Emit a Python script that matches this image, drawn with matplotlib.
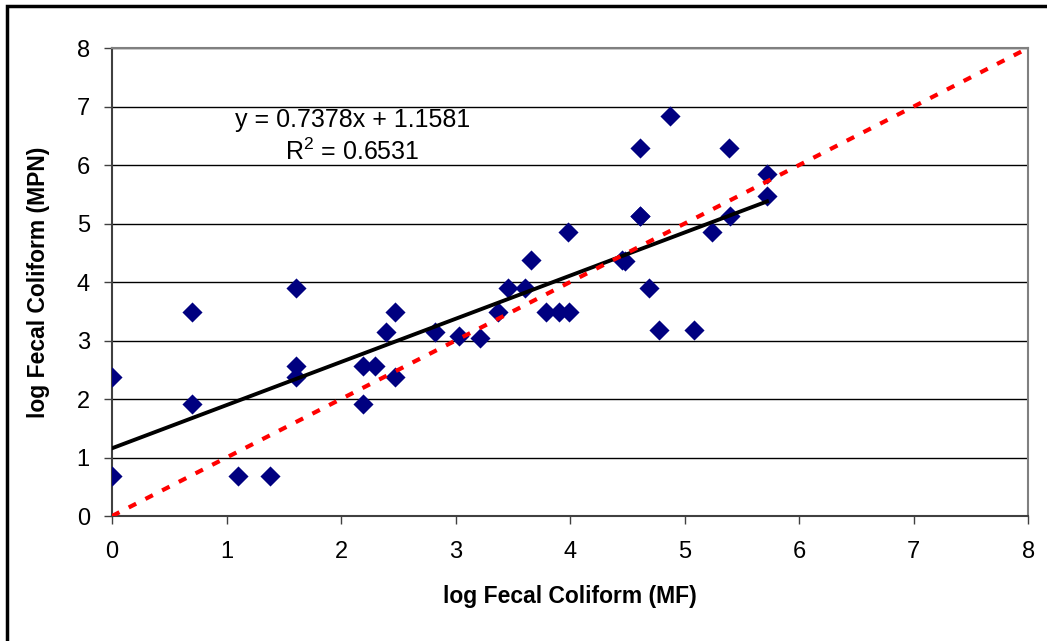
import numpy as np
import matplotlib
matplotlib.use("Agg")
import matplotlib.pyplot as plt
from matplotlib.patches import Rectangle

plt.rcParams['font.family'] = ['Liberation Sans', 'DejaVu Sans']

# log Fecal Coliform, MF (x) vs MPN (y)
mf = [0.00, 0.00, 0.70, 0.70, 1.10, 1.38, 1.61, 1.61, 1.61, 2.19, 2.19, 2.30,
      2.39, 2.47, 2.47, 2.82, 3.03, 3.21, 3.37, 3.46, 3.61, 3.66, 3.79, 3.90,
      3.99, 3.98, 4.45, 4.48, 4.61, 4.61, 4.61, 4.69, 4.78, 4.87, 5.08, 5.24,
      5.39, 5.40, 5.72, 5.72]
mpn = [2.38, 0.68, 3.48, 1.91, 0.68, 0.68, 3.89, 2.56, 2.38, 2.56, 1.91, 2.56,
       3.14, 3.48, 2.38, 3.14, 3.08, 3.04, 3.49, 3.89, 3.89, 4.38, 3.48, 3.48,
       3.48, 4.85, 4.38, 4.36, 6.29, 5.13, 5.13, 3.89, 3.18, 6.84, 3.18, 4.85,
       6.29, 5.13, 5.84, 5.47]

slope = 0.7378
intercept = 1.1581
r2 = 0.6531
one_to_one = [0, 8]

fig = plt.figure(figsize=(10.47, 6.41), dpi=100)
ax = fig.add_axes([0.107, 0.195, 0.875, 0.730])

fs = 17
ax.scatter(mf, mpn, marker='D', s=105, color='#000080', zorder=3, linewidths=0)
fit_x = np.array([0, max(mf)])
ax.plot(fit_x, slope * fit_x + intercept, color='black', lw=2.8, zorder=4)
ax.plot(one_to_one, one_to_one, color='red', lw=3, ls=(0, (2, 2.5)), zorder=4)

ax.set_xlim(0, 8)
ax.set_ylim(0, 8)
ax.set_xticks(range(9))
ax.set_yticks(range(9))
ax.yaxis.grid(True, color='black', lw=1)
ax.set_axisbelow(True)
for side in ['top', 'right']:
    ax.spines[side].set_color('#808080')
    ax.spines[side].set_linewidth(1.5)
for side in ['left', 'bottom']:
    ax.spines[side].set_color('#404040')
    ax.spines[side].set_linewidth(1.5)
ax.tick_params(direction='out', length=6, width=1, color='#404040',
               labelsize=fs)
ax.tick_params(axis='x', pad=12)
ax.tick_params(axis='y', pad=10)

ax.set_xlabel('log Fecal Coliform (MF)', fontsize=16.5, fontweight='bold', labelpad=16)
ax.set_ylabel('log Fecal Coliform (MPN)', fontsize=16.5, fontweight='bold', labelpad=19)

ax.text(1.07, 6.77, 'y = 0.7378x + 1.1581', fontsize=18, ha='left', va='center')
ax.text(1.51, 6.22, '$\\mathregular{R^2}$ = 0.6531', fontsize=18, ha='left', va='center')

fig.patches.append(Rectangle((7 / 1047, -0.1), 1.2, 1 - 6 / 641 + 0.1,
                             transform=fig.transFigure, fill=False,
                             edgecolor='black', lw=2.5))

fig.savefig('out.png', dpi=100)
